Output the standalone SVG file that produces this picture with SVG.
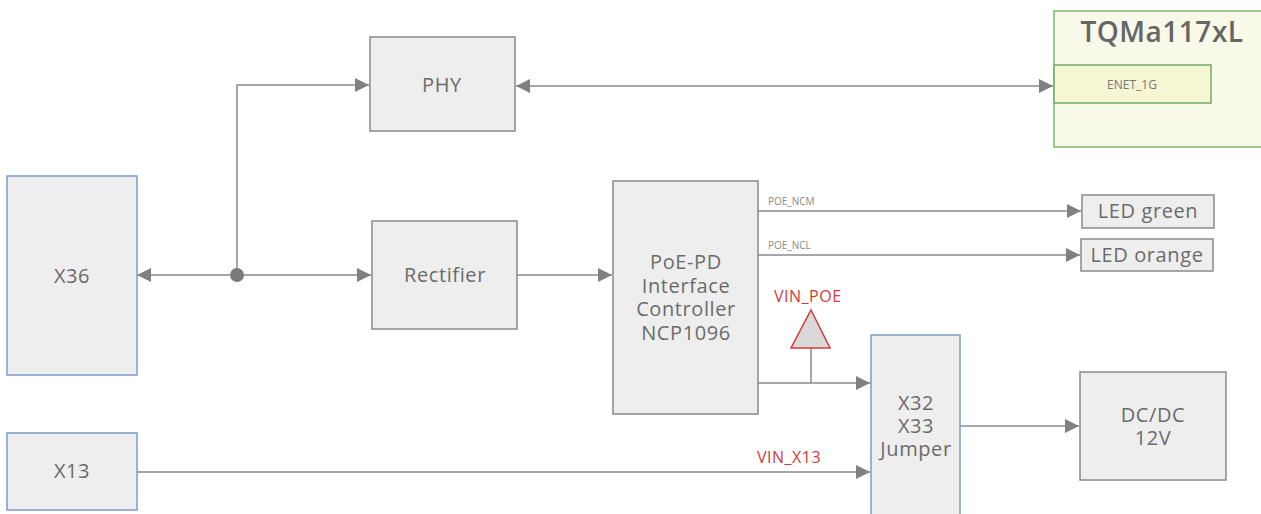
<svg xmlns="http://www.w3.org/2000/svg" width="1261" height="514" viewBox="0 0 1261 514">
<style>
.box{fill:#eeeeee;stroke:#8a8a8a;stroke-width:1.5}
.blue{fill:#eeeeee;stroke:#7a9cc6;stroke-width:1.5}
.t{font-family:"Open Sans",Lato,sans-serif;font-size:20px;letter-spacing:0.6px;fill:#6b6b6b;text-anchor:middle}
.w{stroke:#8a8a8a;stroke-width:1.5;fill:none}
.lbl{font-family:"Open Sans",Lato,sans-serif;font-size:10px;fill:#8a8a8a}
.red{font-family:"Open Sans",Lato,sans-serif;font-size:16px;letter-spacing:0.5px;fill:#d43a3a}
</style>
<defs>
<marker id="ah" viewBox="0 0 10 10" refX="10" refY="5" markerWidth="14" markerHeight="14" markerUnits="userSpaceOnUse" orient="auto-start-reverse">
<path d="M0,0 L10,5 L0,10 z" fill="#808080"/>
</marker>
</defs>
<g id="connectors">
<line class="w" x1="137" y1="275" x2="237" y2="275" marker-start="url(#ah)"/>
<line class="w" x1="237" y1="275" x2="371" y2="275" marker-end="url(#ah)"/>
<polyline class="w" points="237,275 237,85 369,85" marker-end="url(#ah)"/>
<circle cx="237" cy="275" r="7" fill="#7a7a7a"/>
<line class="w" x1="516" y1="86" x2="1053" y2="86" marker-start="url(#ah)" marker-end="url(#ah)"/>
<line class="w" x1="517" y1="275" x2="612" y2="275" marker-end="url(#ah)"/>
<line class="w" x1="758" y1="211" x2="1081" y2="211" marker-end="url(#ah)"/>
<text class="lbl" x="768" y="205">POE_NCM</text>
<line class="w" x1="758" y1="255" x2="1080" y2="255" marker-end="url(#ah)"/>
<text class="lbl" x="768" y="249">POE_NCL</text>
<line class="w" x1="758" y1="383" x2="870" y2="383" marker-end="url(#ah)"/>
<line class="w" x1="811" y1="348" x2="811" y2="383"/>
<path d="M811,310 L830,348 L791,348 z" fill="#d9d9d9" stroke="#d43a3a" stroke-width="1.5"/>
<text class="red" x="774" y="302">VIN_POE</text>
<line class="w" x1="137" y1="472" x2="870" y2="472" marker-end="url(#ah)"/>
<text class="red" x="757" y="463">VIN_X13</text>
<line class="w" x1="960" y1="426" x2="1079" y2="426" marker-end="url(#ah)"/>
</g>
<g id="X36"><rect class="blue" x="7" y="176" width="130" height="199"/><text class="t" x="72" y="283">X36</text></g>
<g id="X13"><rect class="blue" x="7" y="433" width="130" height="77"/><text class="t" x="72" y="478">X13</text></g>
<g id="PHY"><rect class="box" x="370" y="37" width="145" height="94"/><text class="t" x="442" y="92">PHY</text></g>
<g id="Rectifier"><rect class="box" x="372" y="221" width="145" height="108"/><text class="t" x="445" y="282">Rectifier</text></g>
<g id="PoE"><rect class="box" x="613" y="181" width="145" height="233"/>
<text class="t" x="686" y="269">PoE-PD</text><text class="t" x="686" y="293">Interface</text><text class="t" x="686" y="316">Controller</text><text class="t" x="686" y="340">NCP1096</text></g>
<g id="Jumper"><rect class="blue" x="871" y="335" width="89" height="185"/>
<text class="t" x="916" y="410">X32</text><text class="t" x="916" y="433">X33</text><text class="t" x="916" y="456">Jumper</text></g>
<g id="DCDC"><rect class="box" x="1080" y="372" width="146" height="108"/><text class="t" x="1153" y="422">DC/DC</text><text class="t" x="1153" y="445">12V</text></g>
<g id="LEDgreen"><rect class="box" x="1082" y="195" width="132" height="33"/><text class="t" x="1148" y="218">LED green</text></g>
<g id="LEDorange"><rect class="box" x="1081" y="239" width="132" height="32"/><text class="t" x="1147" y="262">LED orange</text></g>
<g id="TQMa117xL"><rect x="1054" y="11" width="215" height="136" fill="#f8f9e9" stroke="#7fb56e" stroke-width="1.5"/>
<text x="1162" y="42" font-family="'Open Sans',Lato,sans-serif" font-size="28" font-weight="600" letter-spacing="0.5" fill="#666666" text-anchor="middle">TQMa117xL</text></g>
<g id="ENET_1G"><rect x="1054" y="65" width="157" height="38" fill="#f5f6d3" stroke="#6fad5e" stroke-width="1.5"/>
<text x="1132" y="89" font-family="'Open Sans',Lato,sans-serif" font-size="12" fill="#777777" text-anchor="middle">ENET_1G</text></g>
</svg>
